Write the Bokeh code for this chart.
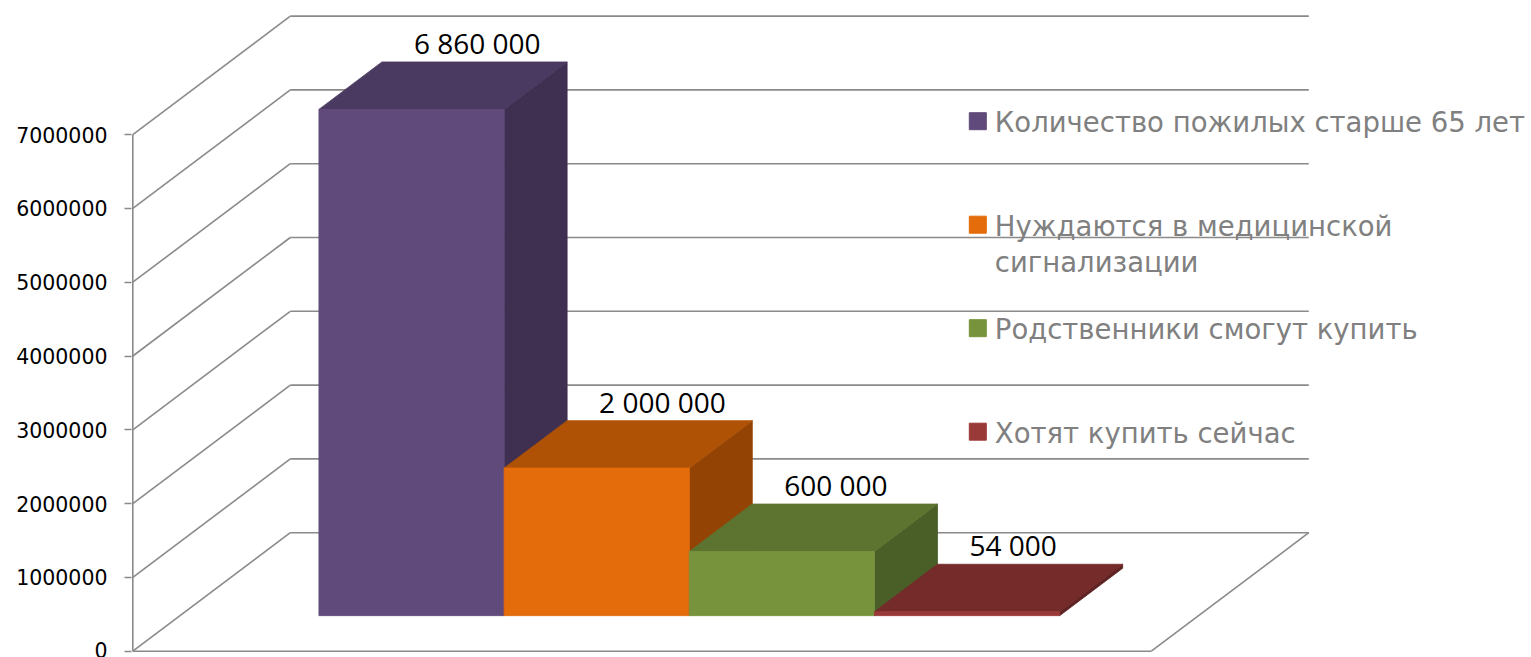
from bokeh.plotting import figure
from bokeh.models import Range1d, FixedTicker
from bokeh.core.properties import value
from bokeh.embed import file_html
from bokeh.resources import INLINE

# ---------------- data ----------------
series = [
    "Количество пожилых старше 65 лет",
    "Нуждаются в медицинской\nсигнализации",
    "Родственники смогут купить",
    "Хотят купить сейчас",
]
values = [6860000, 2000000, 870000, 54000]
value_labels = ["6 860 000", "2 000 000", "600 000", "54 000"]
tick_values = [0, 1000000, 2000000, 3000000, 4000000, 5000000, 6000000, 7000000]
tick_labels = ["0", "1000000", "2000000", "3000000", "4000000", "5000000", "6000000", "7000000"]

front_colors = ["#604A7B", "#E46C0A", "#77933C", "#9A3A38"]
top_colors = ["#4A3960", "#B05206", "#5D7431", "#742B2A"]
side_colors = ["#3F2F51", "#934405", "#4A5F28", "#5E2322"]

# ---------------- layout ----------------
W_PX, H_PX = 1531, 657
LEFT = 131
PX_PER_UNIT = 73.8e-6          # screen px per value unit
ZERO_Y = 650.7                 # canvas y of value 0 on the front plane
y_start = (ZERO_Y - H_PX) / PX_PER_UNIT
y_end = ZERO_Y / PX_PER_UNIT
X0 = 1.3                       # front axis position (px units)
DX = 157.5                     # depth offset, px
DV = 118.5 / PX_PER_UNIT       # depth offset, value units
FW = 1018.5                    # floor width, px
GRID = "#8a8a8a"


def proj(x, z, v):
    return X0 + x + z * DX, v + z * DV


def img_x(px):
    return px - LEFT


def img_v(py):
    return (ZERO_Y - py) / PX_PER_UNIT


p = figure(width=W_PX, height=H_PX,
           x_range=Range1d(0, W_PX - LEFT), y_range=Range1d(y_start, y_end),
           output_backend="svg", toolbar_location=None,
           min_border_left=LEFT, min_border_right=0, min_border_top=0, min_border_bottom=0,
           x_axis_location=None, y_axis_location="left")
p.outline_line_color = None
p.xgrid.visible = False
p.ygrid.visible = False
p.background_fill_color = "white"
p.border_fill_color = "white"

ax = p.yaxis[0]
ax.ticker = FixedTicker(ticks=tick_values)
ax.major_label_overrides = {t: l for t, l in zip(tick_values, tick_labels)}
ax.axis_line_color = None
ax.major_tick_line_color = GRID
ax.major_tick_line_width = 1.5
ax.major_tick_out = 7
ax.major_tick_in = 0
ax.minor_tick_line_color = None
ax.major_label_standoff = 17
ax.major_label_text_font = "DejaVu Sans"
ax.major_label_text_font_size = "20.5px"
ax.major_label_text_color = "black"

# ---------------- walls ----------------
x0s, y0s, x1s, y1s = [], [], [], []
for t in tick_values:
    a = proj(0, 1, t); b = proj(FW, 1, t)
    x0s += [a[0]]; y0s += [a[1]]; x1s += [b[0]]; y1s += [b[1]]
    a = proj(0, 0, t); b = proj(0, 1, t)
    x0s += [a[0]]; y0s += [a[1]]; x1s += [b[0]]; y1s += [b[1]]
for (a, b) in [(proj(0, 0, 0), proj(FW, 0, 0)),
               (proj(FW, 0, 0), proj(FW, 1, 0)),
               (proj(0, 0, 0), proj(0, 0, tick_values[-1]))]:
    x0s += [a[0]]; y0s += [a[1]]; x1s += [b[0]]; y1s += [b[1]]
p.segment(x0s, y0s, x1s, y1s, line_color=GRID, line_width=1.6)

# ---------------- bars ----------------
bw = FW / 5.5
z0, z1 = 0.3, 0.7
xs, ys, cols = [], [], []
for i, v in enumerate(values):
    xa = 0.75 * bw + i * bw
    xb = xa + bw
    faces = [
        ([proj(xb, z0, 0), proj(xb, z1, 0), proj(xb, z1, v), proj(xb, z0, v)], side_colors[i]),
        ([proj(xa, z0, v), proj(xb, z0, v), proj(xb, z1, v), proj(xa, z1, v)], top_colors[i]),
        ([proj(xa, z0, 0), proj(xb, z0, 0), proj(xb, z0, v), proj(xa, z0, v)], front_colors[i]),
    ]
    for pts, c in faces:
        xs.append([q[0] for q in pts]); ys.append([q[1] for q in pts]); cols.append(c)
p.patches(xs, ys, fill_color=cols, line_color=cols, line_width=0.8)

# ---------------- data labels ----------------
lx, ly = [], []
for i, v in enumerate(values):
    xa = 0.75 * bw + i * bw
    q = proj(xa, z1, v)
    lx.append(q[0]); ly.append(q[1])
p.text(lx, ly, text=value_labels, x_offset=32, y_offset=-19,
       text_font=value("Open Sans"), text_font_size="28px", text_color="black",
       text_align="left", text_baseline="alphabetic")

# ---------------- legend ----------------
step = 103.5
sq_x = [img_x(977.3)] * len(series)
sq_y = [img_v(120.7 + i * step) for i in range(len(series))]
p.scatter(sq_x, sq_y, marker="square", size=17, fill_color=front_colors, line_color=front_colors)
tx, ty, tt = [], [], []
for i, name in enumerate(series):
    for k, line in enumerate(name.split("\n")):
        tx.append(img_x(994.3)); ty.append(img_v(131.7 + i * step + k * 36.7)); tt.append(line)
p.text(tx, ty, text=tt, y_offset=-10, text_font=value("DejaVu Sans"), text_font_size="27.5px",
       text_color="#808080", text_align="left", text_baseline="alphabetic")

open("out.html", "w").write(file_html(p, INLINE))
